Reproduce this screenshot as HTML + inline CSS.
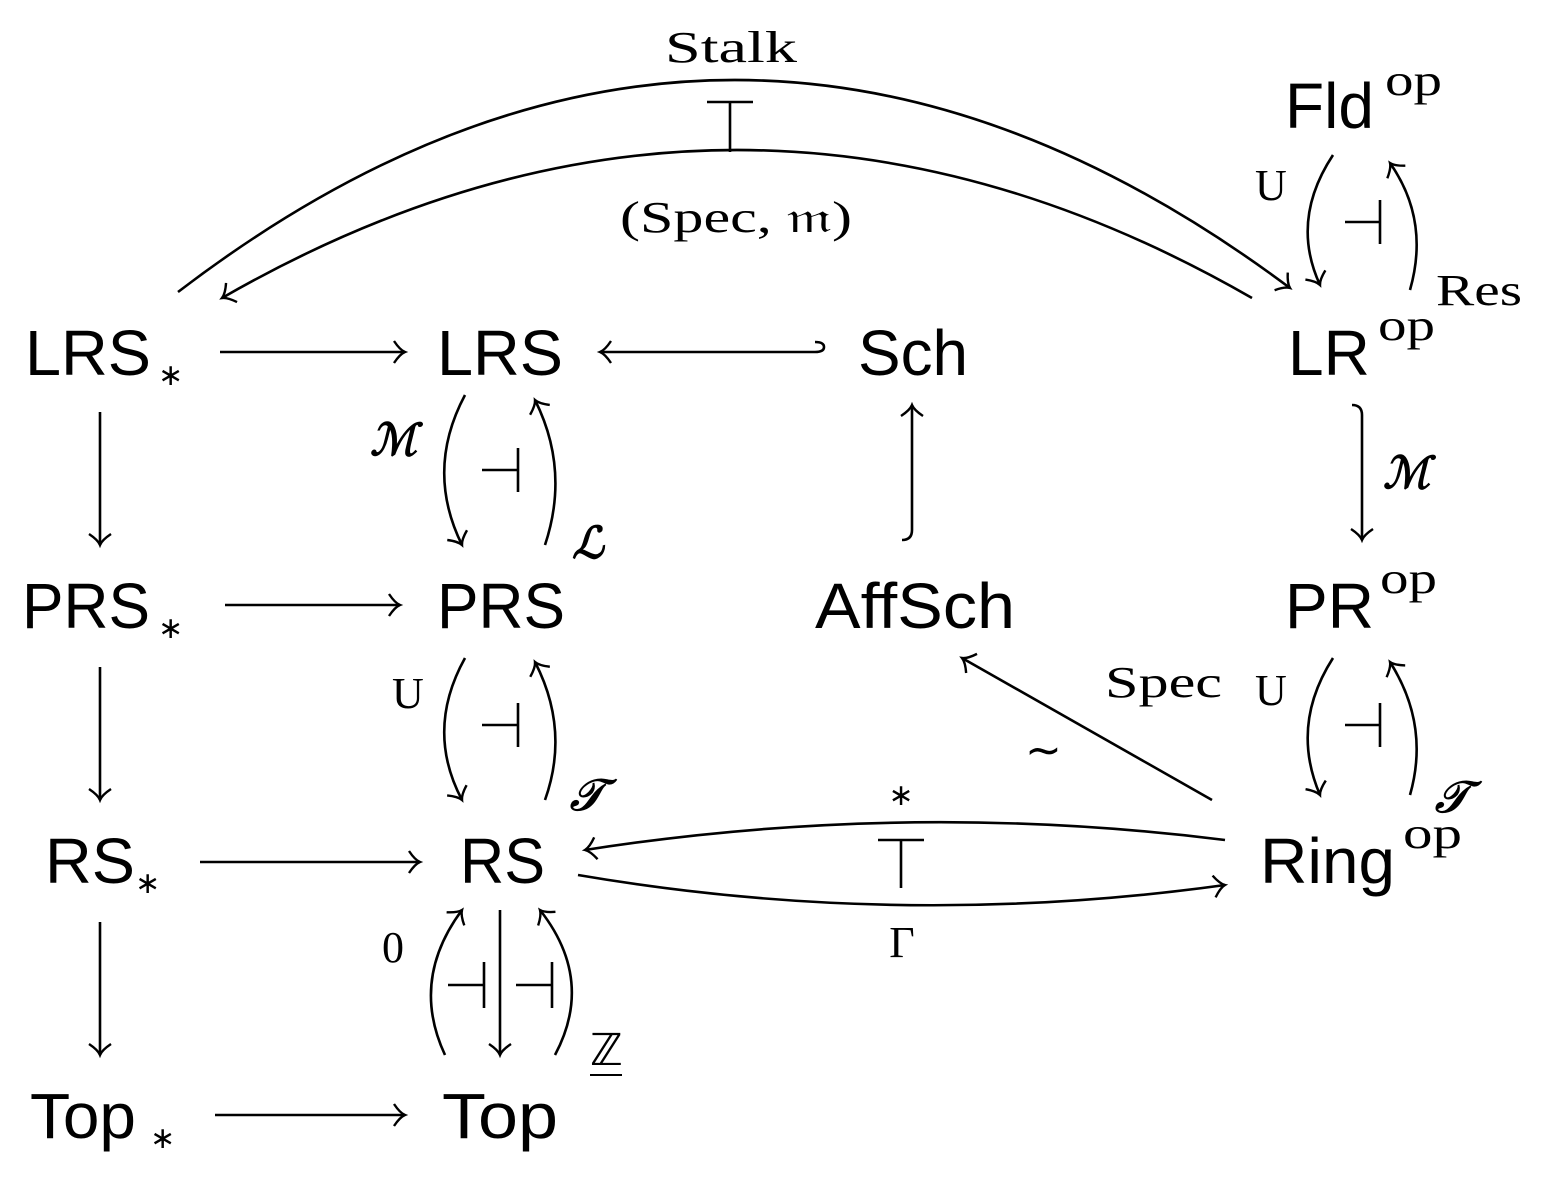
<!DOCTYPE html>
<html><head><meta charset="utf-8"><style>
html,body{margin:0;padding:0;background:#fff;}
svg{display:block}
.o{font-family:"Liberation Sans",sans-serif;font-size:64px;fill:#000}
.s{font-family:"Liberation Serif",serif;font-size:44px;fill:#000}
.st{font-family:"DejaVu Sans",sans-serif;font-size:30px;fill:#000}
.sup{font-family:"Liberation Serif",serif;font-size:44px;fill:#000}
.c{font-family:"Liberation Serif",serif;font-size:44px;font-style:italic;font-weight:bold;fill:#000}
path{fill:none;stroke:#000;stroke-width:2.6}
</style></head><body>
<svg width="1548" height="1186" viewBox="0 0 1548 1186" xmlns="http://www.w3.org/2000/svg">
<defs>
<marker id="a" markerUnits="userSpaceOnUse" markerWidth="30" markerHeight="30" refX="15" refY="15" orient="auto">
<path d="M4 4 Q10 13 15 15 Q10 17 4 26" style="stroke-width:2.4"/>
</marker>
</defs>
<!-- nodes -->
<text class="o" x="25" y="375" textLength="126" lengthAdjust="spacingAndGlyphs">LRS</text><text class="st" x="158" y="385">∗</text>
<text class="o" x="437" y="375" textLength="126" lengthAdjust="spacingAndGlyphs">LRS</text>
<text class="o" x="858" y="375" textLength="110" lengthAdjust="spacingAndGlyphs">Sch</text>
<text class="o" x="1288" y="375">LR</text><text class="sup" x="1378" y="340" textLength="57" lengthAdjust="spacingAndGlyphs">op</text>
<text class="o" x="1285" y="128">Fld</text><text class="sup" x="1385" y="95" textLength="57" lengthAdjust="spacingAndGlyphs">op</text>
<text class="o" x="22" y="628" textLength="128" lengthAdjust="spacingAndGlyphs">PRS</text><text class="st" x="158" y="638">∗</text>
<text class="o" x="437" y="628" textLength="128" lengthAdjust="spacingAndGlyphs">PRS</text>
<text class="o" x="815" y="628" textLength="200" lengthAdjust="spacingAndGlyphs">AffSch</text>
<text class="o" x="1285" y="628">PR</text><text class="sup" x="1380" y="593" textLength="57" lengthAdjust="spacingAndGlyphs">op</text>
<text class="o" x="45" y="883" textLength="90" lengthAdjust="spacingAndGlyphs">RS</text><text class="st" x="135" y="893">∗</text>
<text class="o" x="460" y="883" textLength="85" lengthAdjust="spacingAndGlyphs">RS</text>
<text class="o" x="1260" y="883" textLength="135" lengthAdjust="spacingAndGlyphs">Ring</text><text class="sup" x="1403" y="848" textLength="59" lengthAdjust="spacingAndGlyphs">op</text>
<text class="o" x="30" y="1138" textLength="106" lengthAdjust="spacingAndGlyphs">Top</text><text class="st" x="150" y="1148">∗</text>
<text class="o" x="442" y="1138" textLength="116" lengthAdjust="spacingAndGlyphs">Top</text>

<!-- top arcs -->
<path d="M178 292 Q730 -130 1290 288" marker-end="url(#a)"/>
<path d="M1252 298 Q737 2 222 298" marker-end="url(#a)"/>
<text class="s" x="665" y="62" textLength="132" lengthAdjust="spacingAndGlyphs">Stalk</text>
<path d="M707 102 H753 M730 102 V152"/>
<text class="s" x="620" y="232" textLength="232" lengthAdjust="spacingAndGlyphs">(Spec, 𝔪)</text>

<!-- horizontals -->
<path d="M220 352 H405" marker-end="url(#a)"/>
<path d="M225 605 H400" marker-end="url(#a)"/>
<path d="M200 862 H420" marker-end="url(#a)"/>
<path d="M215 1115 H405" marker-end="url(#a)"/>
<path d="M815 342 Q824 342 824 347 Q824 352 815 352 H600" marker-end="url(#a)"/>

<!-- left verticals -->
<path d="M100 412 V545" marker-end="url(#a)"/>
<path d="M100 667 V800" marker-end="url(#a)"/>
<path d="M100 922 V1055" marker-end="url(#a)"/>

<!-- Sch / AffSch -->
<path d="M902 540 Q912 540 912 530 V405" marker-end="url(#a)"/>
<!-- LR -> PR -->
<path d="M1352 405 Q1362 405 1362 415 V540" marker-end="url(#a)"/>
<text class="c" x="1383" y="488">ℳ</text>

<!-- Fld / LR adjunction -->
<path d="M1333 155 Q1290 220 1320 285" marker-end="url(#a)"/>
<path d="M1410 290 Q1430 220 1390 163" marker-end="url(#a)"/>
<path d="M1345 222 H1380 M1380 200 V244"/>
<text class="s" x="1255" y="200">U</text>
<text class="s" x="1436" y="305" textLength="86" lengthAdjust="spacingAndGlyphs">Res</text>

<!-- LRS / PRS adjunction -->
<path d="M465 395 Q425 470 462 545" marker-end="url(#a)"/>
<path d="M545 545 Q570 470 535 400" marker-end="url(#a)"/>
<path d="M482 470 H518 M518 448 V492"/>
<text class="c" x="370" y="455">ℳ</text>
<text class="c" x="572" y="558">ℒ</text>

<!-- PRS / RS adjunction -->
<path d="M465 658 Q425 730 462 800" marker-end="url(#a)"/>
<path d="M545 800 Q570 730 535 662" marker-end="url(#a)"/>
<path d="M482 725 H518 M518 703 V747"/>
<text class="s" x="392" y="708">U</text>
<text class="c" x="570" y="810">𝒯</text>

<!-- RS / Top -->
<path d="M445 1055 Q410 980 462 910" marker-end="url(#a)"/>
<path d="M500 910 V1055" marker-end="url(#a)"/>
<path d="M555 1055 Q595 980 540 910" marker-end="url(#a)"/>
<path d="M448 985 H484 M484 962 V1008"/>
<path d="M516 985 H552 M552 962 V1008"/>
<text class="s" x="382" y="962">0</text>
<text class="s" x="590" y="1065">ℤ</text>
<path d="M590 1075 H622" style="stroke-width:2"/>

<!-- PR / Ring adjunction -->
<path d="M1333 658 Q1290 725 1320 795" marker-end="url(#a)"/>
<path d="M1410 795 Q1430 725 1390 662" marker-end="url(#a)"/>
<path d="M1345 725 H1380 M1380 703 V747"/>
<text class="s" x="1255" y="705">U</text>
<text class="c" x="1435" y="812">𝒯</text>

<!-- Ring -> AffSch -->
<path d="M1212 800 L962 658" marker-end="url(#a)"/>
<text class="s" x="1105" y="697" textLength="117" lengthAdjust="spacingAndGlyphs">Spec</text>
<text class="s" x="1025" y="765">∼</text>

<!-- RS <-> Ring -->
<path d="M1225 840 Q905 800 585 850" marker-end="url(#a)"/>
<path d="M578 875 Q900 930 1225 885" marker-end="url(#a)"/>
<text class="st" x="901" y="805" text-anchor="middle">∗</text>
<path d="M878 840 H924 M901 840 V888"/>
<text class="s" x="902" y="957" text-anchor="middle">Γ</text>
</svg>
</body></html>
